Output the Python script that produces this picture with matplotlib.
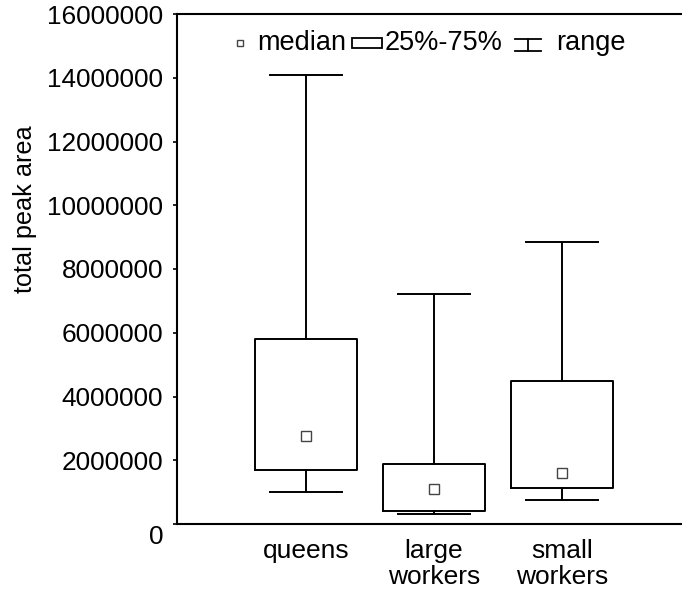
import matplotlib
matplotlib.use("Agg")
import matplotlib.pyplot as plt
import matplotlib.transforms as mtransforms
from matplotlib.patches import Rectangle
from matplotlib.lines import Line2D

plt.rcParams['font.family'] = ['Liberation Sans', 'DejaVu Sans']

# Summary statistics per caste
groups = ["queens", "large\nworkers", "small\nworkers"]
minimum = [1010000, 310000, 750000]
q1 = [1690000, 420000, 1120000]
median = [2770000, 1090000, 1610000]
q3 = [5810000, 1890000, 4490000]
maximum = [14090000, 7220000, 8850000]
yticks = [0, 2000000, 4000000, 6000000, 8000000, 10000000, 12000000, 14000000, 16000000]

W, H = 682, 589
fig = plt.figure(figsize=(W / 100, H / 100), dpi=100)
ax_l, ax_r, ax_t, ax_b = 177, 682, 14, 524
ax = fig.add_axes([ax_l / W, 1 - ax_b / H, (ax_r - ax_l) / W, (ax_b - ax_t) / H])

positions = [1, 2, 3]
stats = [dict(whislo=lo, q1=a, med=m, q3=b, whishi=hi, fliers=[])
         for lo, a, m, b, hi in zip(minimum, q1, median, q3, maximum)]
lw = 1.4
ax.bxp(stats, positions=positions, widths=0.797, capwidths=0.5625,
       boxprops=dict(color='black', linewidth=lw),
       whiskerprops=dict(color='black', linewidth=lw),
       capprops=dict(color='black', linewidth=lw),
       medianprops=dict(visible=False),
       showfliers=False, manage_ticks=False)
ax.plot(positions, median, linestyle='none', marker='s', markersize=7.5,
        markerfacecolor='white', markeredgecolor='#444444', markeredgewidth=1.0,
        zorder=5)

ax.set_xlim(1 - (306 - ax_l) / 128, 1 + (ax_r - 306) / 128)
ax.set_ylim(0, 16000000)
ax.set_yticks(yticks)
ax.set_yticklabels([str(v) for v in yticks])
ax.set_xticks(positions)
ax.set_xticklabels(groups, linespacing=1.15)

fs = 18.8
ax.tick_params(axis='y', direction='out', length=3, width=1.2, pad=7, labelsize=fs)
ax.tick_params(axis='x', length=0, pad=10.5, labelsize=19)

# the zero label sits a little below its tick
zero_lbl = ax.get_yticklabels()[0]
zero_lbl.set_transform(zero_lbl.get_transform() +
                       mtransforms.ScaledTranslation(0, -11 / 100, fig.dpi_scale_trans))

ax.set_ylabel("total peak area", fontsize=18.2)
ax.yaxis.set_label_coords((37 - ax_l) / (ax_r - ax_l), (ax_b - 209) / (ax_b - ax_t))

for side in ['left', 'top', 'bottom']:
    ax.spines[side].set_linewidth(1.5)
ax.spines['right'].set_visible(False)


# legend drawn in axes-fraction coordinates from pixel positions
def fx(x):
    return (x - ax_l) / (ax_r - ax_l)


def fy(y):
    return (ax_b - y) / (ax_b - ax_t)


lfs = 19.5
ly = 43
ax.add_line(Line2D([fx(240)], [fy(ly)], transform=ax.transAxes, marker='s',
                   markersize=5, markerfacecolor='white', markeredgecolor='#444444',
                   markeredgewidth=1.0, clip_on=False))
ax.text(fx(257), fy(ly), "median", transform=ax.transAxes, ha='left', va='center', fontsize=lfs)
ax.add_patch(Rectangle((fx(352), fy(48)), fx(382) - fx(352), fy(38) - fy(48),
                       transform=ax.transAxes, facecolor='white', edgecolor='black',
                       linewidth=1.3))
ax.text(fx(385), fy(ly), "25%-75%", transform=ax.transAxes, ha='left', va='center', fontsize=lfs)
for yy in (39, 51):
    ax.add_line(Line2D([fx(515), fx(541)], [fy(yy), fy(yy)], transform=ax.transAxes,
                       color='black', linewidth=1.3))
ax.add_line(Line2D([fx(528), fx(528)], [fy(39), fy(51)], transform=ax.transAxes,
                   color='black', linewidth=1.3))
ax.text(fx(556), fy(ly), "range", transform=ax.transAxes, ha='left', va='center', fontsize=lfs)

fig.savefig("out.png", dpi=100)
